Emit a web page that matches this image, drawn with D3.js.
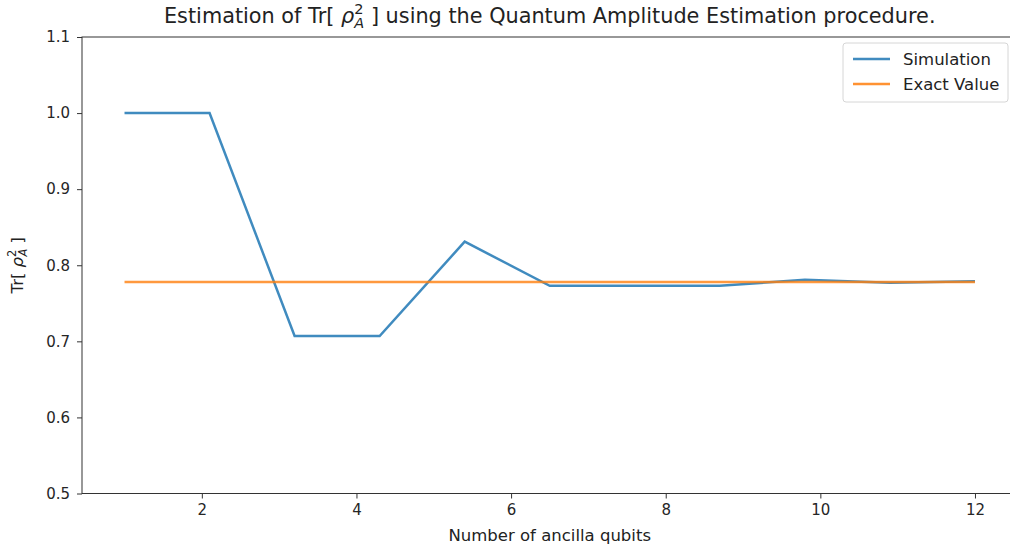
<!DOCTYPE html>
<html>
<head>
<meta charset="utf-8">
<script src="https://cdn.jsdelivr.net/npm/d3@7"></script>
<style>
  body { margin: 0; background: #fff; }
  svg text { font-family: "DejaVu Sans", sans-serif; }
</style>
</head>
<body>
<svg width="1010" height="549"></svg>
<script>
// data
let ancilla = [1, 2.1, 3.2, 4.3, 5.4, 6.5, 7.6, 8.7, 9.8, 10.9, 12]
let simulation = [1.0, 1.0, 0.707, 0.707, 0.831, 0.773, 0.773, 0.773, 0.781, 0.777, 0.779]
let exactValue = [0.778, 0.778, 0.778, 0.778, 0.778, 0.778, 0.778, 0.778, 0.778, 0.778, 0.778]
let xTicks = [2, 4, 6, 8, 10, 12]
let yTicks = [0.5, 0.6, 0.7, 0.8, 0.9, 1.0, 1.1]

let plotLeft = 82, plotRight = 1017.5, plotTop = 37, plotBottom = 493.5

let svg = d3.select('svg')

let x = d3.scaleLinear().domain([0.45, 12.55]).range([plotLeft, plotRight])
let y = d3.scaleLinear().domain([0.5, 1.1]).range([plotBottom, plotTop])

// axes
let xAxis = svg.append('g')
    .attr('transform', `translate(0, ${plotBottom})`)
    .call(d3.axisBottom(x).tickValues(xTicks).tickSize(5).tickPadding(6).tickFormat(d3.format('d')))
let yAxis = svg.append('g')
    .attr('transform', `translate(${plotLeft}, 0)`)
    .call(d3.axisLeft(y).tickValues(yTicks).tickSize(5).tickPadding(7).tickFormat(d3.format('.1f')))

for (let ax of [xAxis, yAxis]) {
    ax.select('.domain').remove()
    ax.selectAll('line').attr('stroke', '#333').attr('stroke-width', 1)
    ax.selectAll('text').attr('font-size', '15px').attr('fill', '#262626')
        .style('font-family', '"DejaVu Sans", sans-serif')
}

// spines
svg.append('rect')
    .attr('x', plotLeft).attr('y', plotTop)
    .attr('width', plotRight - plotLeft).attr('height', plotBottom - plotTop)
    .attr('fill', 'none').attr('stroke', '#333').attr('stroke-width', 1)

// lines
let line = d3.line().x((d, i) => x(ancilla[i])).y(d => y(d))

svg.append('path')
    .datum(simulation)
    .attr('d', line)
    .attr('fill', 'none')
    .attr('stroke', '#1f77b4')
    .attr('stroke-width', 2.5)
    .attr('stroke-opacity', 0.85)

svg.append('path')
    .datum(exactValue)
    .attr('d', line)
    .attr('fill', 'none')
    .attr('stroke', '#ff7f0e')
    .attr('stroke-width', 2.5)
    .attr('stroke-opacity', 0.8)

// title
let title = svg.append('text')
    .attr('x', (plotLeft + plotRight) / 2)
    .attr('y', 23)
    .attr('text-anchor', 'middle')
    .attr('font-size', '20.8px')
    .attr('fill', '#222')
title.append('tspan').text('Estimation of Tr[ ')
title.append('tspan').attr('font-style', 'italic').text('ρ')
title.append('tspan').attr('font-size', '14.5px').attr('dy', -9).text('2')
title.append('tspan').attr('font-size', '14.5px').attr('font-style', 'italic').attr('dx', -9).attr('dy', 14).text('A')
title.append('tspan').attr('dy', -5).text(' ] using the Quantum Amplitude Estimation procedure.')

// axis labels
svg.append('text')
    .attr('x', (plotLeft + plotRight) / 2)
    .attr('y', 541)
    .attr('text-anchor', 'middle')
    .attr('font-size', '16.5px')
    .attr('fill', '#222')
    .text('Number of ancilla qubits')

let ylab = svg.append('text')
    .attr('transform', `translate(23, ${(plotTop + plotBottom) / 2}) rotate(-90)`)
    .attr('text-anchor', 'middle')
    .attr('font-size', '16.5px')
    .attr('fill', '#222')
ylab.append('tspan').text('Tr[ ')
ylab.append('tspan').attr('font-style', 'italic').text('ρ')
ylab.append('tspan').attr('font-size', '11.5px').attr('dy', -7).text('2')
ylab.append('tspan').attr('font-size', '11.5px').attr('font-style', 'italic').attr('dx', -7).attr('dy', 11).text('A')
ylab.append('tspan').attr('dy', -4).text(' ]')

// legend
let legend = svg.append('g').attr('transform', 'translate(843, 43)')
legend.append('rect')
    .attr('width', 165).attr('height', 59).attr('rx', 3)
    .attr('fill', '#fff').attr('fill-opacity', 0.8)
    .attr('stroke', '#d6d6d6').attr('stroke-width', 1)

let entries = [['Simulation', '#1f77b4'], ['Exact Value', '#ff7f0e']]
entries.forEach((e, i) => {
    let g = legend.append('g').attr('transform', `translate(0, ${16 + i * 25})`)
    g.append('line')
        .attr('x1', 10).attr('x2', 47)
        .attr('stroke', e[1]).attr('stroke-width', 2.5)
        .attr('stroke-opacity', 0.85)
    g.append('text')
        .attr('x', 60).attr('y', 6)
        .attr('font-size', '16.5px')
        .attr('fill', '#222')
        .text(e[0])
})
</script>
</body>
</html>
